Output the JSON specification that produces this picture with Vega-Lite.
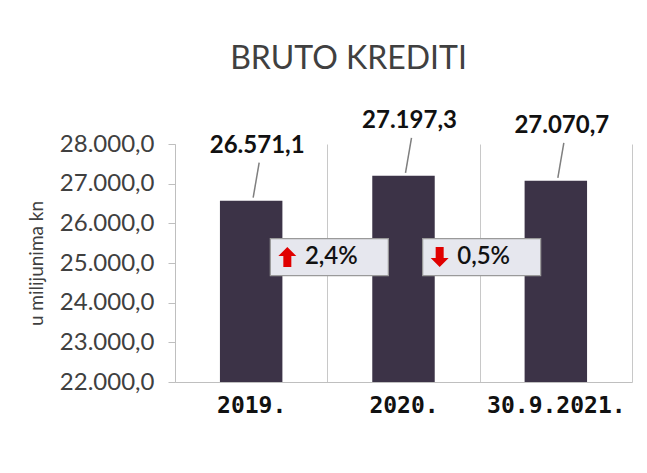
{
  "$schema": "https://vega.github.io/schema/vega-lite/v6.json",
  "autosize": {"type": "none"},
  "width": 457,
  "height": 238,
  "padding": {"left": 175, "top": 144, "right": 15, "bottom": 91},
  "background": "white",
  "title": {
    "text": "BRUTO KREDITI",
    "font": "Lato",
    "fontSize": 32,
    "fontWeight": "normal",
    "color": "#404040",
    "anchor": "middle",
    "dx": -55,
    "offset": 33
  },
  "datasets": {
    "bars": [
      {"period": "2019.", "value": 26571.1},
      {"period": "2020.", "value": 27197.3},
      {"period": "30.9.2021.", "value": 27070.7}
    ],
    "changes": [
      {"from": "2019.", "change": "2,4%", "dir": "up"},
      {"from": "2020.", "change": "0,5%", "dir": "down"}
    ]
  },
  "encoding": {
    "x": {
      "field": "period",
      "type": "nominal",
      "sort": null,
      "scale": {"domain": ["2019.", "2020.", "30.9.2021."], "paddingInner": 0, "paddingOuter": 0},
      "axis": {
        "title": null,
        "labelAngle": 0,
        "grid": true,
        "gridColor": "#c8c8c8",
        "gridWidth": 1,
        "tickBand": "extent",
        "ticks": false,
        "domainColor": "#bfbfbf",
        "labelFont": "DejaVu Sans Mono",
        "labelFontWeight": "bold",
        "labelFontSize": 23,
        "labelColor": "#111111",
        "labelPadding": 12
      }
    }
  },
  "layer": [
    {
      "data": {"name": "bars"},
      "encoding": {
        "y": {
          "field": "value",
          "type": "quantitative",
          "scale": {"domain": [22000, 28000], "nice": false, "zero": false},
          "axis": {
            "title": "u milijunima kn",
            "values": [22000, 23000, 24000, 25000, 26000, 27000, 28000],
            "tickCount": 7,
            "format": ",.1f",
            "labelOverlap": false
          }
        }
      },
      "layer": [
        {
          "mark": {"type": "bar", "color": "#3c3347", "width": {"band": 0.41}},
          "encoding": {"y2": {"datum": 22000}}
        },
        {
          "mark": {"type": "rule", "color": "#7f7f7f", "strokeWidth": 1.5, "xOffset": 2, "yOffset": -3, "x2Offset": 8, "y2Offset": -38},
          "encoding": {
            "x2": {"field": "period"},
            "y2": {"field": "value"}
          }
        },
        {
          "mark": {"type": "text", "font": "Lato", "fontWeight": "bold", "fontSize": 24, "color": "#111111", "baseline": "middle", "dy": -55, "dx": 6},
          "encoding": {
            "text": {"field": "value", "type": "quantitative", "format": ",.1f"}
          }
        }
      ]
    },
    {
      "data": {"name": "changes"},
      "mark": {"type": "point", "shape": "M-1,-0.3136H1V0.3136H-1Z", "size": 13924, "filled": true, "fill": "#e6e7ee", "stroke": "#9a9a9a", "strokeWidth": 1.2, "opacity": 1, "xOffset": 2},
      "encoding": {
        "x": {"field": "from", "type": "nominal", "bandPosition": 1},
        "y": {"datum": 25150, "type": "quantitative"}
      }
    },
    {
      "data": {"name": "changes"},
      "mark": {"type": "point", "size": 400, "filled": true, "opacity": 1, "color": "#e00000", "xOffset": -40},
      "encoding": {
        "x": {"field": "from", "type": "nominal", "bandPosition": 1},
        "y": {"datum": 25150, "type": "quantitative"},
        "shape": {
          "field": "dir",
          "type": "nominal",
          "scale": {"domain": ["up", "down"], "range": ["M0,-1L0.9,-0.1L0.4,-0.1L0.4,1L-0.4,1L-0.4,-0.1L-0.9,-0.1Z", "M0,1L0.9,0.1L0.4,0.1L0.4,-1L-0.4,-1L-0.4,0.1L-0.9,0.1Z"]},
          "legend": null
        }
      }
    },
    {
      "data": {"name": "changes"},
      "mark": {"type": "text", "font": "Lato", "fontWeight": 600, "fontSize": 24, "color": "#111111", "baseline": "middle", "align": "center", "dx": 4},
      "encoding": {
        "x": {"field": "from", "type": "nominal", "bandPosition": 1},
        "y": {"datum": 25150, "type": "quantitative"},
        "text": {"field": "change"}
      }
    }
  ],
  "config": {
    "view": {"stroke": null},
    "axisY": {
      "titleFont": "Lato",
      "titleFontSize": 19,
      "titleFontWeight": "normal",
      "titleColor": "#404040",
      "titlePadding": 13,
      "tickCount": 7,
      "format": ",.1f",
      "labelOverlap": false,
      "labelFont": "Lato",
      "labelFontSize": 24,
      "labelColor": "#404040",
      "labelPadding": 14,
      "tickSize": 7,
      "tickColor": "#bfbfbf",
      "domainColor": "#bfbfbf",
      "grid": false
    },
    "locale": {"number": {"decimal": ",", "thousands": ".", "grouping": [3], "currency": ["", " kn"]}}
  }
}
